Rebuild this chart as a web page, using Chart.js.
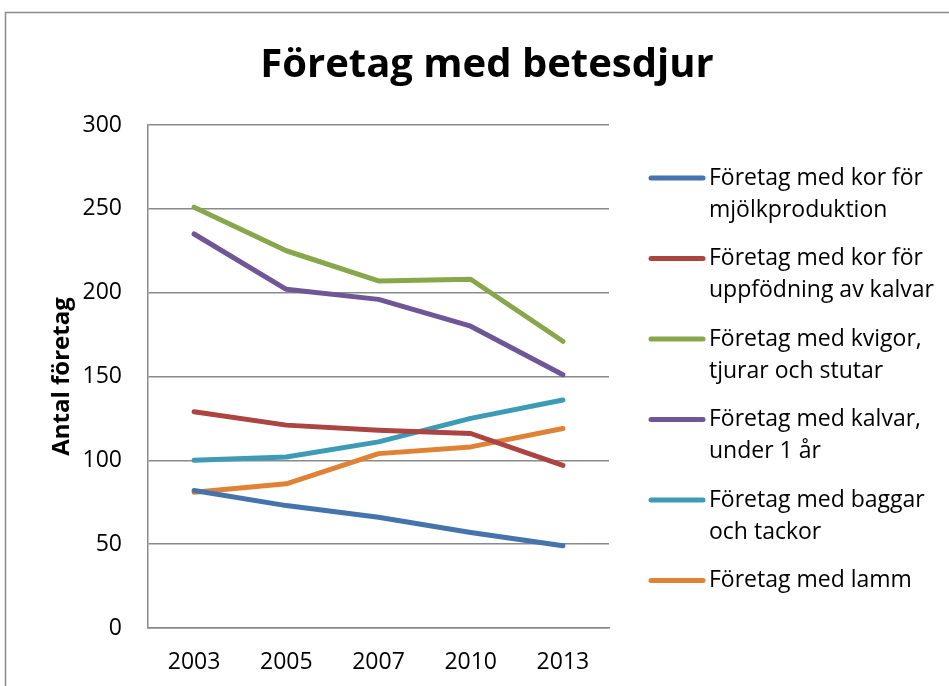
<!DOCTYPE html>
<html><head><meta charset="utf-8">
<script src="https://cdn.jsdelivr.net/npm/chart.js@4.4.1/dist/chart.umd.min.js"></script>
<style>html,body{margin:0;padding:0;background:#fff;}#wrap{width:949px;height:686px;position:relative;}</style>
</head><body><div id="wrap"><canvas id="c" width="949" height="686"></canvas></div>
<script>
const titleText = 'Företag med betesdjur';
const yAxisTitle = 'Antal företag';
const years = ['2003', '2005', '2007', '2010', '2013'];
const yTicks = [0, 50, 100, 150, 200, 250, 300];

const korMjolk = [82, 73, 66, 57, 49];
const korKalvar = [129, 121, 118, 116, 97];
const kvigor = [251, 225, 207, 208, 171];
const kalvar = [235, 202, 196, 180, 151];
const baggar = [100, 102, 111, 125, 136];
const lamm = [81, 86, 104, 108, 119];

const seriesLabels = [
  ['Företag med kor för', 'mjölkproduktion'],
  ['Företag med kor för', 'uppfödning av kalvar'],
  ['Företag med kvigor,', 'tjurar och stutar'],
  ['Företag med kalvar,', 'under 1 år'],
  ['Företag med baggar', 'och tackor'],
  ['Företag med lamm']
];
const seriesData = [korMjolk, korKalvar, kvigor, kalvar, baggar, lamm];
const colors = ['#4573AC', '#AC4441', '#88A64A', '#6F5697', '#3E9BB5', '#E08236'];

const FONT = "'Open Sans', 'Noto Sans', sans-serif";

const decor = {
  id: 'decor',
  beforeDraw(chart) {
    const ctx = chart.ctx;
    ctx.save();
    ctx.fillStyle = '#fff';
    ctx.fillRect(0, 0, chart.width, chart.height);
    ctx.strokeStyle = '#8a8a8a';
    ctx.lineWidth = 1.5;
    ctx.strokeRect(5.5, 12.5, 1000, 700);
    ctx.restore();
  },
  afterDraw(chart) {
    const ctx = chart.ctx;
    ctx.save();
    // title
    ctx.fillStyle = '#000';
    ctx.font = "bold 40px " + FONT;
    ctx.textAlign = 'center';
    ctx.textBaseline = 'middle';
    ctx.fillText(titleText, 487, 66);
    // legend
    const rowStep = 80.5;
    const firstRow = 178;
    ctx.font = "23px " + FONT;
    ctx.textAlign = 'left';
    chart.data.datasets.forEach((ds, i) => {
      const y = firstRow + i * rowStep;
      ctx.strokeStyle = ds.borderColor;
      ctx.lineWidth = 5;
      ctx.lineCap = 'round';
      ctx.beginPath();
      ctx.moveTo(651, y);
      ctx.lineTo(703, y);
      ctx.stroke();
      ctx.fillStyle = '#000';
      seriesLabels[i].forEach((t, k) => ctx.fillText(t, 709, y + k * 32));
    });
    ctx.restore();
  }
};

new Chart(document.getElementById('c'), {
  type: 'line',
  data: {
    labels: years,
    datasets: seriesData.map((d, i) => ({
      label: seriesLabels[i].join(' '),
      data: d,
      borderColor: colors[i],
      backgroundColor: colors[i],
      borderWidth: 5,
      borderCapStyle: 'round',
      borderJoinStyle: 'round',
      pointRadius: 0,
      tension: 0,
      fill: false
    }))
  },
  options: {
    responsive: false,
    animation: false,
    events: [],
    layout: { padding: { top: 125, left: 48, right: 340, bottom: 8 } },
    plugins: { legend: { display: false }, title: { display: false }, tooltip: { enabled: false } },
    scales: {
      x: {
        offset: true,
        grid: { display: false, drawTicks: false },
        border: { display: true, color: '#8a8a8a', width: 1.5 },
        ticks: { color: '#000', font: { family: FONT, size: 23 }, padding: 21 },
        afterFit(s) { s.height = 50; }
      },
      y: {
        min: 0, max: 300,
        afterBuildTicks(s) { s.ticks = yTicks.map(v => ({ value: v })); },
        grid: { color: '#8a8a8a', lineWidth: 1.5, drawTicks: false },
        border: { display: true, color: '#8a8a8a', width: 1.5 },
        ticks: { color: '#000', font: { family: FONT, size: 23 }, padding: 26 },
        title: { display: true, text: yAxisTitle, color: '#000', font: { family: FONT, size: 24, weight: 'bold' }, padding: 0 },
        afterFit(s) { s.width = 100; }
      }
    }
  },
  plugins: [decor]
});
</script>
</body></html>
